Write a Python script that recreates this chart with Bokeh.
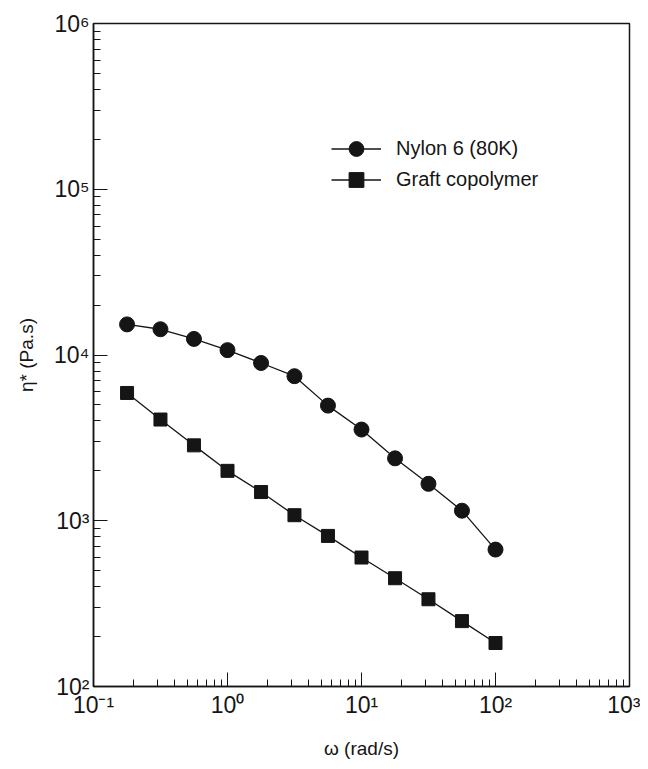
from bokeh.plotting import figure
from bokeh.models import FixedTicker, Legend, LegendItem
from bokeh.embed import file_html
from bokeh.resources import INLINE

# Data
omega = [0.178, 0.316, 0.562, 1.0, 1.78, 3.16, 5.62, 10.0, 17.8, 31.6, 56.2, 100.0]
nylon = [15300, 14300, 12500, 10700, 8950, 7450, 4950, 3550, 2380, 1670, 1150, 670]
graft = [5900, 4080, 2850, 2000, 1490, 1080, 810, 600, 450, 336, 248, 183]

x_ticks = [0.1, 1, 10, 100, 1000]
x_labels = ["10⁻¹", "10⁰", "10¹", "10²", "10³"]
y_ticks = [1e2, 1e3, 1e4, 1e5, 1e6]
y_labels = ["10²", "10³", "10⁴", "10⁵", "10⁶"]

FONT = "Liberation Sans"
INK = "#151515"

p = figure(width=640, height=761, x_axis_type="log", y_axis_type="log",
           x_range=(0.1, 1000), y_range=(1e2, 1e6),
           output_backend="svg", toolbar_location=None,
           min_border_left=93, min_border_right=11, min_border_top=23, min_border_bottom=69)
p.xgrid.visible = False
p.ygrid.visible = False
p.outline_line_color = INK
p.outline_line_width = 1.5
p.background_fill_color = "white"
p.border_fill_color = "white"

def minors(majors):
    out = []
    for m in majors[:-1]:
        out += [m * k for k in range(2, 10)]
    return out

p.xaxis.ticker = FixedTicker(ticks=x_ticks, minor_ticks=minors(x_ticks))
p.yaxis.ticker = FixedTicker(ticks=y_ticks, minor_ticks=minors(y_ticks))
p.xaxis.major_label_overrides = {t: l for t, l in zip(x_ticks, x_labels)}
p.yaxis.major_label_overrides = {t: l for t, l in zip(y_ticks, y_labels)}

for ax in (p.xaxis[0], p.yaxis[0]):
    ax.axis_line_color = INK
    ax.axis_line_width = 1.5
    ax.major_tick_line_color = INK
    ax.minor_tick_line_color = INK
    ax.major_tick_in = 14
    ax.major_tick_out = 0
    ax.minor_tick_in = 7
    ax.minor_tick_out = 0
    ax.major_label_text_font = FONT
    ax.major_label_text_font_size = "23px"
    ax.major_label_text_color = INK
    ax.axis_label_text_font = FONT
    ax.axis_label_text_font_size = "19px"
    ax.axis_label_text_font_style = "normal"
    ax.axis_label_text_color = INK

p.xaxis.axis_label = "ω (rad/s)"
p.yaxis.axis_label = "η* (Pa.s)"
p.xaxis.major_label_standoff = 5
p.yaxis.major_label_standoff = 4
p.xaxis.axis_label_standoff = 17
p.yaxis.axis_label_standoff = 14

l1 = p.line(omega, nylon, line_color=INK, line_width=1.3)
s1 = p.scatter(omega, nylon, marker="circle", size=15, fill_color=INK, line_color=INK)
l2 = p.line(omega, graft, line_color=INK, line_width=1.3)
s2 = p.scatter(omega, graft, marker="square", size=13, fill_color=INK, line_color=INK)

common = dict(padding=0, margin=0, glyph_width=50, glyph_height=37, label_height=20,
              label_standoff=15, border_line_alpha=0, background_fill_alpha=0,
              label_text_font=FONT, label_text_font_size="20px", label_text_color=INK)
leg1 = Legend(items=[LegendItem(label="Nylon 6 (80K)", renderers=[l1, s1])],
              location=(238, 519), **common)
leg2 = Legend(items=[LegendItem(label="Graft copolymer", renderers=[l2, s2])],
              location=(238, 488), **common)
p.add_layout(leg1)
p.add_layout(leg2)

open("out.html", "w").write(file_html(p, INLINE))
